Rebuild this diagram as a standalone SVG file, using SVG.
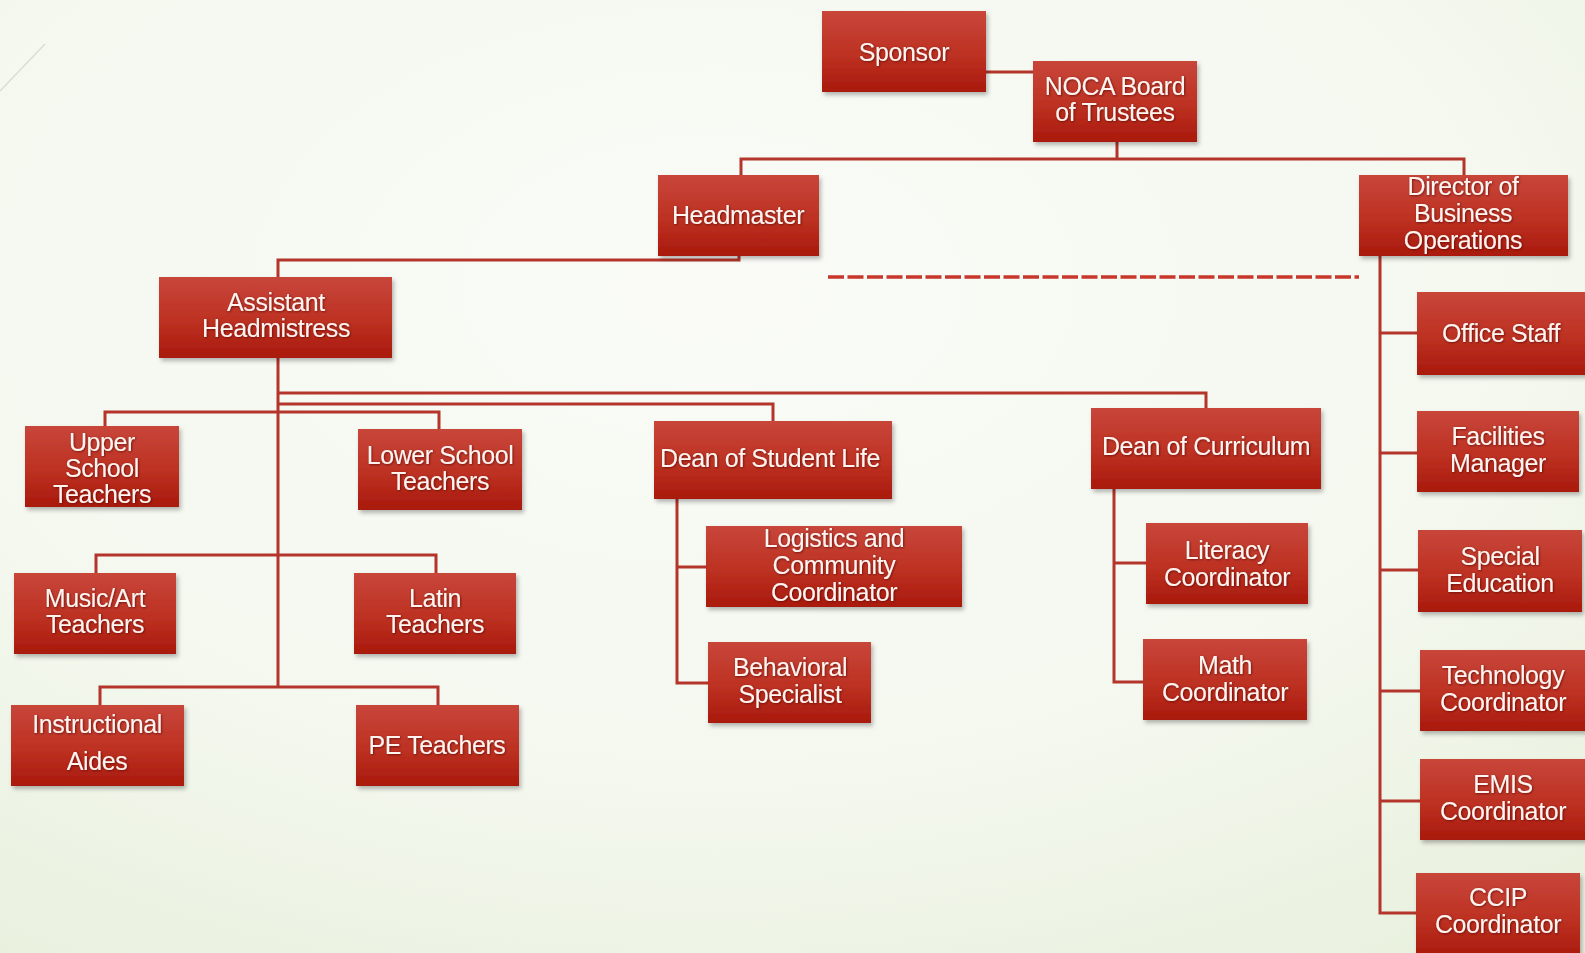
<svg xmlns="http://www.w3.org/2000/svg" width="1585" height="953" viewBox="0 0 1585 953">
<defs>
<radialGradient id="bg" cx="0.45" cy="0.3" r="0.85">
<stop offset="0" stop-color="#fafbf7"/>
<stop offset="0.6" stop-color="#f4f8ef"/>
<stop offset="1" stop-color="#e8f0dd"/>
</radialGradient>
<linearGradient id="box" x1="0" y1="0" x2="0" y2="1">
<stop offset="0" stop-color="#c8463a"/>
<stop offset="0.55" stop-color="#bd3122"/>
<stop offset="1" stop-color="#a9190c"/>
</linearGradient>
<filter id="sh" x="-10%" y="-10%" width="125%" height="135%">
<feDropShadow dx="2" dy="3" stdDeviation="2" flood-color="#000" flood-opacity="0.28"/>
</filter>
<filter id="tsh" x="-5%" y="-20%" width="110%" height="140%">
<feDropShadow dx="0.8" dy="0.8" stdDeviation="0.8" flood-color="#4a0500" flood-opacity="0.7"/>
</filter>
</defs>
<style>
.b{fill:url(#box);filter:url(#sh)}
.t{font-family:"Liberation Sans",Arial,sans-serif;font-size:25px;fill:#fff4f0;text-anchor:middle;letter-spacing:-0.4px;filter:url(#tsh)}
.c{fill:none;stroke:#b3352b;stroke-width:3}
.d{fill:none;stroke:#c8372b;stroke-width:3.5;stroke-dasharray:16 3.5}
</style>
<rect width="1585" height="953" fill="url(#bg)"/>
<line x1="0" y1="91" x2="45" y2="44" stroke="#d9ddd2" stroke-width="1.5"/>

<g id="connectors">
<path class="c" d="M986,72 H1033"/>
<path class="c" d="M1117,142 V159"/>
<path class="c" d="M741,175 V159 H1464 V175"/>
<path class="c" d="M739,256 V260 H278 V277"/>
<path class="c" d="M278,358 V687"/>
<path class="c" d="M278,393 H1206 V408"/>
<path class="c" d="M278,404 H773 V421"/>
<path class="c" d="M105,426 V412 H439 V429"/>
<path class="c" d="M96,573 V555 H436 V573"/>
<path class="c" d="M100,705 V687 H438 V705"/>
<path class="c" d="M677,499 V683 H708 M677,567 H706"/>
<path class="c" d="M1114,489 V682 H1143 M1114,563 H1146"/>
<path class="c" d="M1380,256 V913 H1416 M1380,333 H1417 M1380,453 H1417 M1380,570 H1418 M1380,691 H1420 M1380,801 H1420"/>
<path class="d" d="M828,277 H1359"/>
</g>

<g id="sponsor"><rect class="b" x="822" y="11" width="164" height="81"/><text class="t" x="904" y="61">Sponsor</text></g>
<g id="noca-board"><rect class="b" x="1033" y="61" width="164" height="81"/><text class="t" x="1115" y="95">NOCA Board</text><text class="t" x="1115" y="121">of Trustees</text></g>
<g id="headmaster"><rect class="b" x="658" y="175" width="161" height="81"/><text class="t" x="738" y="224">Headmaster</text></g>
<g id="director"><rect class="b" x="1359" y="175" width="209" height="81"/><text class="t" x="1463" y="195">Director of</text><text class="t" x="1463" y="222">Business</text><text class="t" x="1463" y="249">Operations</text></g>
<g id="assistant-headmistress"><rect class="b" x="159" y="277" width="233" height="81"/><text class="t" x="276" y="311">Assistant</text><text class="t" x="276" y="337">Headmistress</text></g>
<g id="upper-school"><rect class="b" x="25" y="426" width="154" height="81"/><text class="t" x="102" y="451">Upper</text><text class="t" x="102" y="477">School</text><text class="t" x="102" y="503">Teachers</text></g>
<g id="lower-school"><rect class="b" x="358" y="429" width="164" height="81"/><text class="t" x="440" y="464">Lower School</text><text class="t" x="440" y="490">Teachers</text></g>
<g id="dean-student-life"><rect class="b" x="654" y="421" width="238" height="78"/><text class="t" x="770" y="467">Dean of Student Life</text></g>
<g id="dean-curriculum"><rect class="b" x="1091" y="408" width="230" height="81"/><text class="t" x="1206" y="455">Dean of Curriculum</text></g>
<g id="music-art"><rect class="b" x="14" y="573" width="162" height="81"/><text class="t" x="95" y="607">Music/Art</text><text class="t" x="95" y="633">Teachers</text></g>
<g id="latin"><rect class="b" x="354" y="573" width="162" height="81"/><text class="t" x="435" y="607">Latin</text><text class="t" x="435" y="633">Teachers</text></g>
<g id="instructional-aides"><rect class="b" x="11" y="705" width="173" height="81"/><text class="t" x="97" y="733">Instructional</text><text class="t" x="97" y="770">Aides</text></g>
<g id="pe-teachers"><rect class="b" x="356" y="705" width="163" height="81"/><text class="t" x="437" y="754">PE Teachers</text></g>
<g id="logistics"><rect class="b" x="706" y="526" width="256" height="81"/><text class="t" x="834" y="547">Logistics and</text><text class="t" x="834" y="574">Community</text><text class="t" x="834" y="601">Coordinator</text></g>
<g id="behavioral"><rect class="b" x="708" y="642" width="163" height="81"/><text class="t" x="790" y="676">Behavioral</text><text class="t" x="790" y="703">Specialist</text></g>
<g id="literacy"><rect class="b" x="1146" y="523" width="162" height="81"/><text class="t" x="1227" y="559">Literacy</text><text class="t" x="1227" y="586">Coordinator</text></g>
<g id="math"><rect class="b" x="1143" y="639" width="164" height="81"/><text class="t" x="1225" y="674">Math</text><text class="t" x="1225" y="701">Coordinator</text></g>
<g id="office-staff"><rect class="b" x="1417" y="292" width="170" height="83"/><text class="t" x="1501" y="342">Office Staff</text></g>
<g id="facilities"><rect class="b" x="1417" y="411" width="162" height="81"/><text class="t" x="1498" y="445">Facilities</text><text class="t" x="1498" y="472">Manager</text></g>
<g id="special-education"><rect class="b" x="1418" y="530" width="164" height="82"/><text class="t" x="1500" y="565">Special</text><text class="t" x="1500" y="592">Education</text></g>
<g id="technology"><rect class="b" x="1420" y="650" width="167" height="81"/><text class="t" x="1503" y="684">Technology</text><text class="t" x="1503" y="711">Coordinator</text></g>
<g id="emis"><rect class="b" x="1420" y="759" width="167" height="81"/><text class="t" x="1503" y="793">EMIS</text><text class="t" x="1503" y="820">Coordinator</text></g>
<g id="ccip"><rect class="b" x="1416" y="873" width="164" height="85"/><text class="t" x="1498" y="906">CCIP</text><text class="t" x="1498" y="933">Coordinator</text></g>
</svg>
